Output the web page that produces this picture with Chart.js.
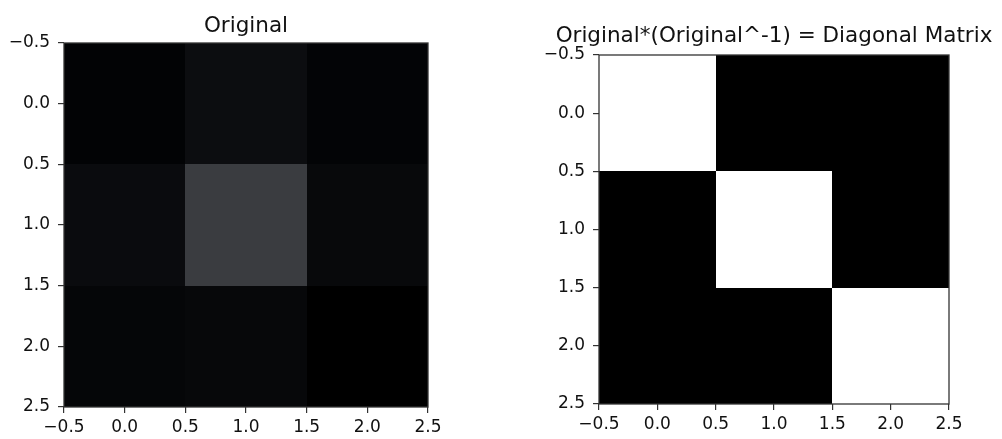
<!DOCTYPE html>
<html><head><meta charset="utf-8">
<script src="https://cdn.jsdelivr.net/npm/chart.js@4.4.1/dist/chart.umd.min.js"></script>
<style>
html,body{margin:0;padding:0;background:#fff;width:1002px;height:439px;overflow:hidden}
.w{position:absolute;top:0}
canvas{display:block}
</style></head><body>
<div class="w" style="left:0;width:500px;height:439px"><canvas id="c1" width="500" height="439"></canvas></div>
<div class="w" style="left:500px;width:502px;height:439px"><canvas id="c2" width="502" height="439"></canvas></div>
<script>
// ---- data ----
const colIndex = [0, 1, 2];
const rowIndex = [0, 1, 2];
const tickValues = [-0.5, 0.0, 0.5, 1.0, 1.5, 2.0, 2.5];
// "Original" image intensities (0 = black, 1 = white)
const originalRow0 = [0.008, 0.047, 0.012];
const originalRow1 = [0.039, 0.228, 0.031];
const originalRow2 = [0.020, 0.027, 0.000];
// Original * Original^-1
const productRow0 = [1, 0, 0];
const productRow1 = [0, 1, 0];
const productRow2 = [0, 0, 1];
const titleLeft = 'Original';
const titleRight = 'Original*(Original^-1) = Diagonal Matrix';

function cells(rows) {
  const out = [];
  rowIndex.forEach(r => colIndex.forEach(c => out.push({x: c, y: r, v: rows[r][c]})));
  return out;
}
function grayColor(v) {
  if (v <= 0) return 'rgb(0,0,0)';
  if (v >= 1) return 'rgb(255,255,255)';
  const r = Math.round(v * 255);
  return `rgb(${r},${Math.round(r * 1.02) + 1},${Math.round(r * 1.06) + 3})`;
}
const heatPlugin = {
  id: 'heat',
  beforeDatasetsDraw(chart) {
    const {ctx, chartArea: a, scales: {x, y}} = chart;
    ctx.save();
    ctx.beginPath(); ctx.rect(a.left, a.top, a.right - a.left, a.bottom - a.top); ctx.clip();
    chart.data.datasets[0].data.forEach(p => {
      const x0 = Math.round(x.getPixelForValue(p.x - 0.5)), x1 = Math.round(x.getPixelForValue(p.x + 0.5));
      const y0 = Math.round(y.getPixelForValue(p.y - 0.5)), y1 = Math.round(y.getPixelForValue(p.y + 0.5));
      ctx.fillStyle = grayColor(p.v);
      ctx.fillRect(Math.min(x0, x1), Math.min(y0, y1), Math.abs(x1 - x0), Math.abs(y1 - y0));
    });
    ctx.restore();
  },
  afterDatasetsDraw(chart) {
    const {ctx, chartArea: a} = chart;
    ctx.save();
    ctx.strokeStyle = '#333';
    ctx.lineWidth = 1.3;
    ctx.strokeRect(a.left, a.top, a.right - a.left, a.bottom - a.top);
    ctx.restore();
  },
  afterDraw(chart, args, opts) {
    const {ctx, chartArea: a} = chart;
    ctx.save();
    ctx.font = 'normal 21.5px "DejaVu Sans"';
    ctx.fillStyle = '#111';
    ctx.textAlign = 'center';
    ctx.textBaseline = 'alphabetic';
    ctx.fillText(opts.text, (a.left + a.right) / 2, opts.baseline);
    ctx.restore();
  }
};
const fmt = v => (Math.abs(v) < 1e-9 ? 0 : v).toFixed(1).replace('-', '\u2212');
const tickFont = {family: 'DejaVu Sans', size: 17};
function makeChart(id, rows, title, o) {
  return new Chart(document.getElementById(id), {
    type: 'scatter',
    data: {datasets: [{data: cells(rows), pointRadius: 0, pointHoverRadius: 0}]},
    plugins: [heatPlugin],
    options: {
      responsive: false, animation: false, events: [],
      layout: {padding: {left: 0, right: o.padRight, top: o.top, bottom: 0}},
      plugins: {
        legend: {display: false}, tooltip: {enabled: false}, title: {display: false},
        heat: {text: title, baseline: o.titleBaseline}
      },
      scales: {
        x: {type: 'linear', position: 'bottom', min: tickValues[0], max: tickValues[tickValues.length - 1],
          border: {display: false},
          grid: {display: true, drawOnChartArea: false, drawTicks: true, tickLength: 6, color: '#333', lineWidth: 1.2},
          ticks: {stepSize: 0.5, autoSkip: false, maxRotation: 0, minRotation: 0, padding: 4, color: '#111', font: tickFont, callback: fmt},
          afterFit(s) { s.height = o.xHeight; s.paddingLeft = 0; s.paddingRight = 0; s.paddingTop = 0; s.paddingBottom = 0; }
        },
        y: {type: 'linear', position: 'left', reverse: true, min: tickValues[0], max: tickValues[tickValues.length - 1],
          border: {display: false},
          grid: {display: true, drawOnChartArea: false, drawTicks: true, tickLength: 6, color: '#333', lineWidth: 1.2},
          ticks: {stepSize: 0.5, autoSkip: false, padding: 8, color: '#111', font: tickFont, callback: fmt},
          afterFit(s) { s.width = o.yWidth; s.paddingLeft = 0; s.paddingRight = 0; s.paddingTop = 0; s.paddingBottom = 0; }
        }
      }
    }
  });
}
makeChart('c1', [originalRow0, originalRow1, originalRow2], titleLeft,
  {padRight: 72, yWidth: 64, xHeight: 32, top: 43, titleBaseline: 32});
makeChart('c2', [productRow0, productRow1, productRow2], titleRight,
  {padRight: 53, yWidth: 99, xHeight: 35, top: 55, titleBaseline: 41.5});
</script>
</body></html>
